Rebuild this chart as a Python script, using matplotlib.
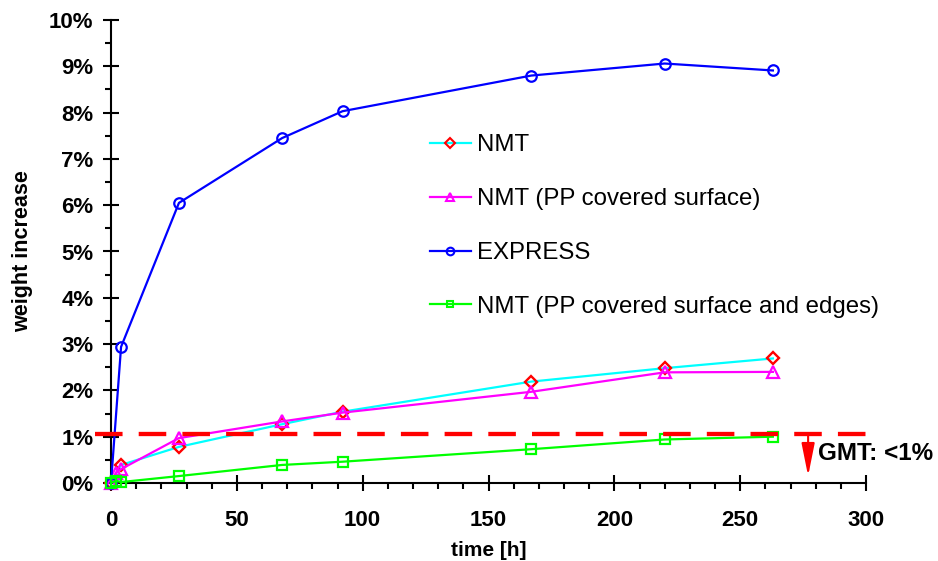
import matplotlib
matplotlib.use("Agg")
import matplotlib.pyplot as plt
from matplotlib.ticker import MultipleLocator, FuncFormatter
from matplotlib.lines import Line2D

plt.rcParams['font.family'] = ['Liberation Sans', 'DejaVu Sans']

# Data (time in hours, weight increase in %)
t_nmt = [0, 4, 27, 68, 92, 167, 220, 263]
y_nmt = [0, 0.39, 0.78, 1.27, 1.54, 2.19, 2.48, 2.69]

t_pp = [0, 2, 4, 27, 68, 92, 167, 220, 263]
y_pp = [0, 0.22, 0.30, 0.97, 1.33, 1.52, 1.97, 2.39, 2.40]

t_express = [0, 4, 27, 68, 92, 167, 220, 263]
y_express = [0, 2.94, 6.05, 7.45, 8.03, 8.80, 9.06, 8.91]

t_edges = [0, 2, 4, 27, 68, 92, 167, 220, 263]
y_edges = [0, 0.05, 0.02, 0.15, 0.39, 0.46, 0.73, 0.94, 1.00]

labels = ["NMT", "NMT (PP covered surface)", "EXPRESS",
          "NMT (PP covered surface and edges)"]

gmt_limit = 1.05
gmt_x = [-6.4, 305.9]
arrow_x = 277
gmt_text = "GMT: <1%"

fig = plt.figure(figsize=(9.38, 5.61), dpi=100)
ax = fig.add_axes([111/938, 1-483/561, (866-111)/938, (483-20)/561])

ms = 7.2
lw = 1.6
ax.plot(t_nmt, y_nmt, color='#00FFFF', lw=lw, marker='D', ms=ms*0.9,
        mec='#FF0000', mfc='none', mew=1.7, clip_on=False, zorder=3)
ax.plot(t_pp, y_pp, color='#FF00FF', lw=lw, marker='^', ms=ms*1.1,
        mec='#FF00FF', mfc='none', mew=1.6, clip_on=False, zorder=3)
ax.plot(t_express, y_express, color='#0000FF', lw=lw, marker='o', ms=ms*1.05,
        mec='#0000FF', mfc='none', mew=1.6, clip_on=False, zorder=3)
ax.plot(t_edges, y_edges, color='#00FF00', lw=lw, marker='s', ms=ms*1.05,
        mec='#00FF00', mfc='none', mew=1.6, clip_on=False, zorder=3)

# GMT limit dashed line
ax.plot(gmt_x, [gmt_limit, gmt_limit], color='#FF0000', lw=3.1,
        dashes=(6.4, 3.75), clip_on=False, zorder=4)

ax.annotate('', xy=(arrow_x, 0.15), xytext=(arrow_x, 1.01),
            arrowprops=dict(arrowstyle='-|>,head_length=1.0,head_width=0.2',
                            color='#FF0000', lw=1.5, shrinkA=0, shrinkB=0,
                            mutation_scale=20),
            annotation_clip=False)
ax.text(281, 0.63, gmt_text, fontsize=17.5, fontweight='bold',
        ha='left', va='center', clip_on=False)

ax.set_xlim(0, 300)
ax.set_ylim(0, 10)
for s in ['top', 'right']:
    ax.spines[s].set_visible(False)
for s in ['left', 'bottom']:
    ax.spines[s].set_linewidth(1.5)

ax.xaxis.set_major_locator(MultipleLocator(50))
ax.xaxis.set_minor_locator(MultipleLocator(10))
ax.yaxis.set_major_locator(MultipleLocator(1))
ax.yaxis.set_minor_locator(MultipleLocator(0.5))
ax.yaxis.set_major_formatter(FuncFormatter(lambda v, p: f"{v:.0f}%"))

ax.tick_params(axis='x', which='major', direction='inout', length=11, width=1.5,
               pad=14, labelsize=16)
ax.tick_params(axis='x', which='minor', direction='out', length=4.5, width=1.5)
ax.tick_params(axis='y', which='major', direction='inout', length=11.5, width=1.5,
               pad=7, labelsize=16)
ax.tick_params(axis='y', which='minor', direction='out', length=4.5, width=1.5)
for lab in ax.get_xticklabels() + ax.get_yticklabels():
    lab.set_fontweight('bold')

ax.set_xlabel("time [h]", fontsize=15, fontweight='bold', labelpad=7)
ax.set_ylabel("weight increase", fontsize=15.5, fontweight='bold', labelpad=11)

handles = [
    Line2D([], [], color='#00FFFF', lw=lw, marker='D', ms=5, mec='#FF0000', mfc='none', mew=1.5),
    Line2D([], [], color='#FF00FF', lw=lw, marker='^', ms=6, mec='#FF00FF', mfc='none', mew=1.5),
    Line2D([], [], color='#0000FF', lw=lw, marker='o', ms=5.5, mec='#0000FF', mfc='none', mew=1.5),
    Line2D([], [], color='#00FF00', lw=lw, marker='s', ms=5, mec='#00FF00', mfc='none', mew=1.5),
]
fig.legend(handles, labels, loc='upper left', bbox_to_anchor=(430/938, 1-134/561),
           bbox_transform=fig.transFigure, frameon=False, fontsize=17.3,
           borderpad=0, borderaxespad=0, handlelength=1.7, handletextpad=0.25,
           labelspacing=1.33)

fig.savefig("out.png", dpi=100)
